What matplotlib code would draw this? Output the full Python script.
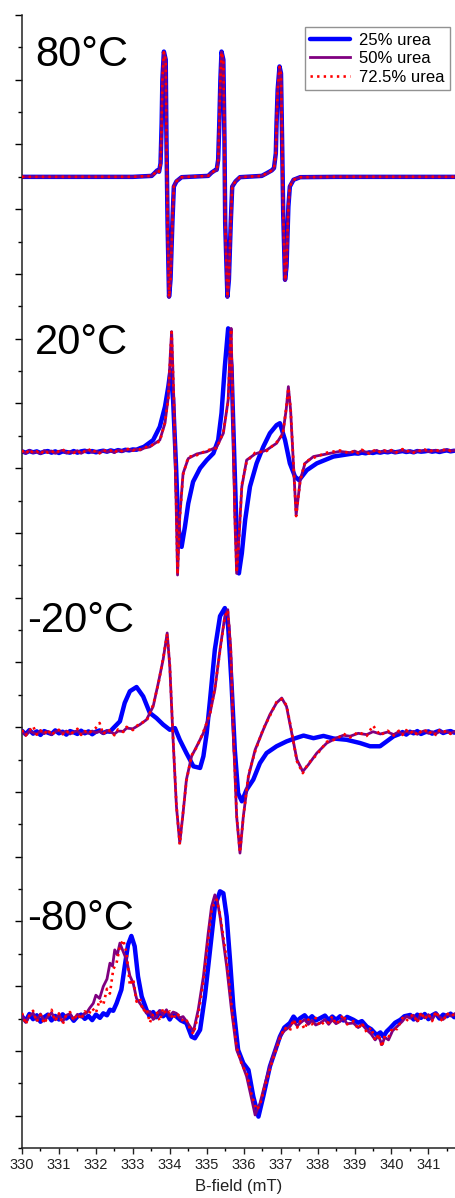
import numpy as np
import matplotlib
matplotlib.use("Agg")
import matplotlib.pyplot as plt
from matplotlib.ticker import MultipleLocator

plt.rcParams['font.family'] = ['Liberation Sans', 'DejaVu Sans']

# ---------------- data ----------------
series_labels = ["25% urea", "50% urea", "72.5% urea"]
panel_labels = ["80°C", "20°C", "-20°C", "-80°C"]
x_ticks = [330, 331, 332, 333, 334, 335, 336, 337, 338, 339, 340, 341]

# 80 °C (all three nearly identical)
b80 = [330.0, 331.0, 332.0, 333.0,
       333.51, 333.60, 333.66, 333.71, 333.75, 333.78, 333.80, 333.84, 333.89, 333.91, 333.94, 333.98, 334.02, 334.07, 334.11, 334.18, 334.32,
       335.04, 335.13, 335.22, 335.27, 335.31, 335.34, 335.37, 335.40, 335.45, 335.48, 335.50, 335.56, 335.60, 335.65, 335.69, 335.78, 335.90,
       336.49, 336.62, 336.76, 336.82, 336.87, 336.89, 336.92, 336.97, 337.01, 337.04, 337.07, 337.12, 337.16, 337.21, 337.25, 337.35, 337.53,
       338.5, 339.5, 340.5, 341.72]
a80_25 = [0, 0, 0, 0,
          0.03, 0.13, 0.20, 0.16, 0.42, 1.66, 3.00, 3.87, 3.62, 1.14, -1.43, -3.70, -3.18, -1.43, -0.30, -0.14, -0.01,
          0.03, 0.13, 0.20, 0.22, 0.53, 1.66, 3.00, 3.87, 3.62, 1.14, -1.43, -3.70, -3.18, -1.43, -0.30, -0.14, -0.01,
          0.03, 0.11, 0.20, 0.27, 0.73, 1.66, 2.69, 3.41, 3.20, 1.14, -1.12, -3.18, -2.77, -0.92, -0.30, -0.09, -0.01,
          0, 0, 0, 0]
a80_50 = [0, 0, 0, 0,
          0.03, 0.12, 0.19, 0.15, 0.40, 1.62, 2.98, 3.86, 3.60, 1.10, -1.47, -3.72, -3.20, -1.40, -0.28, -0.13, -0.01,
          0.03, 0.12, 0.19, 0.21, 0.50, 1.62, 2.98, 3.86, 3.60, 1.10, -1.47, -3.72, -3.20, -1.40, -0.28, -0.13, -0.01,
          0.03, 0.10, 0.19, 0.26, 0.70, 1.62, 2.66, 3.40, 3.18, 1.10, -1.15, -3.20, -2.75, -0.90, -0.28, -0.08, -0.01,
          0, 0, 0, 0]
a80_725 = [0, 0, 0, 0,
           0.03, 0.12, 0.20, 0.16, 0.41, 1.64, 2.99, 3.85, 3.61, 1.12, -1.45, -3.71, -3.19, -1.42, -0.29, -0.14, -0.01,
           0.03, 0.12, 0.20, 0.22, 0.52, 1.64, 2.99, 3.85, 3.61, 1.12, -1.45, -3.71, -3.19, -1.42, -0.29, -0.14, -0.01,
           0.03, 0.11, 0.20, 0.27, 0.72, 1.64, 2.68, 3.40, 3.19, 1.12, -1.13, -3.19, -2.76, -0.91, -0.29, -0.09, -0.01,
           0, 0, 0, 0]

# 20 °C
g20_left = [330.0, 330.1, 330.2, 330.3, 330.4, 330.5, 330.6, 330.7, 330.8, 330.9,
            331.0, 331.1, 331.2, 331.3, 331.4, 331.5, 331.6, 331.7, 331.8, 331.9,
            332.0, 332.1, 332.2, 332.3, 332.4, 332.5, 332.6, 332.7, 332.8, 332.9,
            333.0, 333.1, 333.2, 333.3]
g20_right = [339.0, 339.1, 339.2, 339.3, 339.4, 339.5, 339.6, 339.7, 339.8, 339.9,
             340.0, 340.1, 340.2, 340.3, 340.4, 340.5, 340.6, 340.7, 340.8, 340.9,
             341.0, 341.1, 341.2, 341.3, 341.4, 341.5, 341.6, 341.7]
l20_25 = [0.02, -0.02, 0.03, -0.01, 0.02, -0.03, 0.01, 0.03, -0.02, 0.02,
          -0.03, 0.02, 0.00, -0.02, 0.03, -0.02, 0.02, 0.04, 0.00, 0.03,
          -0.01, 0.02, 0.04, 0.01, 0.05, 0.02, 0.06, 0.03, 0.07, 0.05,
          0.08, 0.07, 0.12, 0.16]
l20_50 = [0.03, -0.04, 0.05, -0.02, 0.01, -0.05, 0.04, -0.01, 0.03, -0.04,
          0.02, 0.05, -0.03, 0.01, -0.02, 0.04, -0.04, 0.02, 0.06, -0.01,
          0.03, -0.03, 0.05, 0.00, 0.04, -0.02, 0.06, 0.02, 0.05, 0.08,
          0.04, 0.09, 0.06, 0.12]
l20_725 = [0.05, -0.06, 0.08, -0.03, 0.02, -0.07, 0.06, -0.02, 0.04, -0.05,
           0.03, 0.09, -0.04, 0.02, -0.03, 0.06, -0.06, 0.03, 0.10, -0.02,
           0.05, -0.04, 0.07, 0.01, 0.05, -0.03, 0.08, 0.03, 0.06, 0.11,
           0.05, 0.10, 0.08, 0.14]
r20_25 = [-0.04, -0.05, -0.02, -0.04, -0.01, -0.03, 0.00, -0.02, 0.01, -0.01,
          0.02, -0.01, 0.01, 0.03, 0.00, 0.02, -0.01, 0.03, 0.01, 0.02,
          0.04, 0.01, 0.03, 0.00, 0.03, 0.05, 0.02, 0.04]
r20_50 = [0.03, -0.02, 0.04, 0.00, -0.03, 0.02, 0.05, -0.01, 0.03, 0.00,
          0.04, -0.02, 0.02, 0.05, 0.01, 0.03, -0.01, 0.04, 0.02, 0.06,
          0.01, 0.03, 0.05, 0.02, 0.04, 0.07, 0.03, 0.05]
r20_725 = [0.05, -0.04, 0.07, 0.00, -0.05, 0.03, 0.08, -0.02, 0.05, 0.01,
           0.06, -0.03, 0.03, 0.09, 0.01, 0.05, -0.02, 0.06, 0.03, 0.08,
           0.00, 0.05, 0.07, 0.02, 0.06, 0.10, 0.03, 0.07]
fb20_25 = [333.55, 333.73, 333.87, 333.96, 334.02, 334.09, 334.17, 334.23, 334.32, 334.41,
           334.50, 334.63, 334.82, 335.00, 335.18, 335.31, 335.40, 335.49, 335.58, 335.67,
           335.74, 335.81, 335.87, 335.95, 336.04, 336.17, 336.35, 336.53, 336.71, 336.89,
           336.98, 337.12, 337.25, 337.39, 337.50, 337.71, 337.98, 338.43, 338.88]
fa20_25 = [0.37, 0.78, 1.40, 2.02, 2.53, 1.61, -0.45, -2.31, -2.93, -2.31,
           -1.59, -0.92, -0.50, -0.25, -0.04, 0.37, 1.20, 2.64, 3.82, 2.64,
           0.06, -2.51, -3.75, -3.13, -2.10, -1.07, -0.35, 0.16, 0.58, 0.83,
           0.89, 0.37, -0.35, -0.76, -0.87, -0.56, -0.35, -0.14, -0.06]
fb20_50 = [333.46, 333.73, 333.87, 333.96, 334.02, 334.05, 334.11, 334.17, 334.21, 334.27,
           334.36, 334.50, 334.73, 335.00, 335.27, 335.45, 335.58, 335.63, 335.66, 335.70,
           335.76, 335.81, 335.88, 335.95, 336.08, 336.31, 336.62, 336.89, 337.06, 337.15,
           337.21, 337.27, 337.35, 337.42, 337.53, 337.66, 337.89, 338.25, 338.60, 338.88]
fa20_50 = [0.16, 0.37, 0.89, 1.71, 3.15, 3.72, 1.61, -1.48, -3.80, -2.00,
           -0.66, -0.20, -0.06, 0.01, 0.16, 0.58, 1.61, 3.15, 3.82, 1.61,
           -2.00, -3.75, -2.51, -1.07, -0.25, -0.06, 0.06, 0.27, 0.58, 1.30,
           2.02, 1.30, -0.45, -1.95, -0.87, -0.35, -0.14, -0.06, 0.02, -0.02]
fa20_725 = [0.18, 0.33, 0.92, 1.65, 3.10, 3.70, 1.70, -1.40, -3.78, -2.05,
            -0.70, -0.15, -0.10, 0.05, 0.12, 0.62, 1.55, 3.10, 3.80, 1.70,
            -1.90, -3.72, -2.55, -1.00, -0.30, -0.02, 0.03, 0.30, 0.55, 1.35,
            1.98, 1.35, -0.40, -1.98, -0.90, -0.30, -0.18, -0.02, 0.05, -0.04]

# -20 °C
gm20_left = [330.0, 330.1, 330.2, 330.3, 330.4, 330.5, 330.6, 330.7, 330.8, 330.9,
             331.0, 331.1, 331.2, 331.3, 331.4, 331.5, 331.6, 331.7, 331.8, 331.9,
             332.0, 332.1, 332.2, 332.3]
gm20_right = [340.2, 340.3, 340.4, 340.5, 340.6, 340.7, 340.8, 340.9,
              341.0, 341.1, 341.2, 341.3, 341.4, 341.5, 341.6, 341.7]
lm20_25 = [0.06, -0.05, 0.08, -0.03, 0.04, -0.07, 0.05, 0.00, -0.04, 0.07,
           -0.02, 0.03, -0.06, 0.05, 0.01, -0.04, 0.06, -0.02, 0.04, -0.05,
           0.03, 0.07, -0.01, 0.04]
lm20_50 = [0.04, -0.07, 0.05, 0.00, -0.05, 0.06, -0.03, 0.04, -0.06, 0.03,
           0.07, -0.02, 0.05, -0.04, 0.02, 0.06, -0.05, 0.03, -0.02, 0.05,
           0.00, 0.04, -0.03, 0.06]
lm20_725 = [0.08, -0.09, 0.06, 0.20, -0.06, 0.07, -0.04, 0.10, -0.08, 0.04,
            0.09, -0.05, 0.07, -0.06, 0.03, 0.12, -0.07, 0.05, -0.03, 0.08,
            0.15, 0.30, -0.05, 0.09]
rm20_25 = [-0.05, 0.02, -0.06, 0.03, -0.02, 0.05, -0.04, 0.01, 0.04, -0.03, 0.02, 0.06, -0.01, 0.03, 0.05, 0.00]
rm20_50 = [0.03, -0.04, 0.05, -0.01, 0.04, -0.05, 0.02, 0.06, -0.02, 0.03, -0.04, 0.05, 0.01, 0.04, -0.02, 0.03]
rm20_725 = [0.06, -0.07, 0.08, -0.03, 0.07, -0.08, 0.04, 0.10, -0.04, 0.05, -0.07, 0.08, 0.02, 0.06, -0.04, 0.05]
fbm20_25 = [332.38, 332.47, 332.65, 332.78, 332.92, 333.10, 333.28, 333.46, 333.64, 333.82,
            334.00, 334.14, 334.27, 334.45, 334.64, 334.82, 334.91, 335.00, 335.09, 335.22,
            335.36, 335.49, 335.58, 335.67, 335.76, 335.85, 335.95, 336.08, 336.26, 336.44,
            336.62, 336.89, 337.16, 337.35, 337.62, 337.89, 338.16, 338.43, 338.79, 339.15,
            339.42, 339.69, 339.87, 340.06]
fam20_25 = [0.03, 0.14, 0.35, 0.92, 1.28, 1.41, 1.12, 0.61, 0.45, 0.25,
            0.09, 0.14, -0.22, -0.63, -1.04, -1.09, -0.73, -0.01, 1.02, 2.57,
            3.60, 3.85, 3.29, 1.54, -0.53, -1.87, -2.12, -1.76, -1.45, -0.94,
            -0.63, -0.42, -0.27, -0.19, -0.09, -0.17, -0.10, -0.18, -0.22, -0.32,
            -0.42, -0.42, -0.27, -0.11]
fbm20_50 = [332.40, 332.50, 332.60, 332.74, 332.83, 333.00, 333.19, 333.37, 333.55, 333.69,
            333.82, 333.93, 334.00, 334.09, 334.18, 334.27, 334.36, 334.45, 334.59, 334.73,
            334.91, 335.09, 335.22, 335.36, 335.49, 335.57, 335.65, 335.72, 335.81, 335.90,
            335.99, 336.13, 336.31, 336.53, 336.71, 336.89, 337.03, 337.16, 337.30, 337.44,
            337.60, 337.75, 337.98, 338.25, 338.52, 338.70, 338.88, 339.10, 339.33, 339.50,
            339.70, 339.90, 340.06]
fam20_50 = [0.02, -0.04, 0.05, 0.04, 0.14, 0.12, 0.25, 0.40, 0.81, 1.54,
            2.26, 3.08, 2.05, -0.22, -2.28, -3.41, -2.48, -1.45, -0.73, -0.42,
            -0.01, 0.61, 1.33, 2.57, 3.60, 3.80, 2.57, -0.01, -2.59, -3.72,
            -2.59, -1.35, -0.53, 0.09, 0.56, 0.92, 1.07, 0.81, -0.01, -0.83,
            -1.20, -0.99, -0.63, -0.32, -0.16, -0.08, -0.11, -0.02, -0.06, 0.03,
            -0.04, 0.02, -0.06]
fam20_725 = [0.06, -0.08, 0.10, 0.02, 0.18, 0.08, 0.30, 0.35, 0.86, 1.50,
             2.30, 3.05, 2.10, -0.18, -2.25, -3.45, -2.45, -1.50, -0.70, -0.45,
             0.03, 0.58, 1.38, 2.52, 3.58, 3.78, 2.60, 0.03, -2.55, -3.70,
             -2.62, -1.30, -0.58, 0.12, 0.52, 0.95, 1.04, 0.85, 0.03, -0.88,
             -1.25, -0.95, -0.68, -0.28, -0.20, -0.03, -0.15, 0.02, -0.10, 0.22,
             -0.08, 0.06, -0.09]

# -80 °C
gm80_left = [330.0, 330.1, 330.2, 330.3, 330.4, 330.5, 330.6, 330.7, 330.8, 330.9,
             331.0, 331.1, 331.2, 331.3, 331.4, 331.5, 331.6, 331.7]
gm80_right = [340.6, 340.7, 340.8, 340.9, 341.0, 341.1, 341.2, 341.3, 341.4, 341.5, 341.6, 341.7]
lm80_25 = [0.05, -0.10, 0.12, -0.04, 0.08, -0.12, 0.02, 0.10, -0.08, 0.06, -0.05, 0.11, -0.02, 0.07, -0.09, 0.04, 0.10, -0.03]
lm80_50 = [0.10, -0.14, 0.06, 0.15, -0.08, 0.12, -0.10, 0.04, 0.16, -0.06, 0.10, -0.12, 0.08, 0.13, -0.05, 0.11, 0.02, 0.15]
lm80_725 = [0.15, -0.20, 0.08, 0.22, -0.12, 0.10, -0.18, 0.05, 0.25, -0.10, 0.14, -0.20, 0.10, 0.18, -0.08, 0.12, -0.05, 0.20]
rm80_25 = [-0.05, 0.10, 0.00, 0.12, -0.04, 0.08, 0.14, -0.02, 0.10, 0.05, 0.13, 0.02]
rm80_50 = [0.08, -0.10, 0.12, 0.00, 0.10, -0.06, 0.14, 0.03, -0.05, 0.11, 0.06, 0.12]
rm80_725 = [0.10, -0.15, 0.18, -0.05, 0.12, -0.10, 0.20, 0.00, -0.12, 0.15, 0.05, 0.10]
fbm80_25 = [331.80, 331.90, 332.00, 332.11, 332.20, 332.30, 332.38, 332.47, 332.56, 332.69,
            332.78, 332.87, 332.96, 333.05, 333.14, 333.24, 333.37, 333.45, 333.55, 333.64,
            333.73, 333.82, 333.91, 334.00, 334.09, 334.18, 334.30, 334.45, 334.59, 334.68,
            334.82, 334.95, 335.09, 335.22, 335.36, 335.45, 335.54, 335.63, 335.72, 335.85,
            335.99, 336.13, 336.26, 336.40, 336.53, 336.71, 336.98, 337.10, 337.25, 337.35,
            337.45, 337.53, 337.65, 337.75, 337.85, 337.95, 338.07, 338.20, 338.30, 338.40,
            338.50, 338.61, 338.70, 338.80, 338.97, 339.10, 339.20, 339.33, 339.45, 339.60,
            339.70, 339.78, 339.87, 339.96, 340.10, 340.24, 340.35, 340.51]
fam80_25 = [0.06, -0.07, 0.10, 0.00, 0.14, 0.08, 0.25, 0.22, 0.45, 0.87,
            1.59, 2.26, 2.53, 2.21, 1.28, 0.66, 0.25, 0.05, 0.18, 0.02,
            0.20, 0.05, 0.14, -0.05, 0.12, 0.04, -0.08, -0.16, -0.58, -0.63,
            -0.37, 0.66, 2.10, 3.44, 3.91, 3.85, 3.13, 1.79, 0.35, -0.99,
            -1.40, -1.61, -2.43, -3.05, -2.43, -1.50, -0.58, -0.30, -0.16, 0.04,
            -0.10, -0.01, 0.08, -0.06, 0.05, -0.08, -0.01, 0.07, -0.07, 0.04,
            -0.06, 0.05, -0.08, 0.03, -0.06, -0.15, -0.10, -0.27, -0.35, -0.53,
            -0.45, -0.58, -0.42, -0.32, -0.15, -0.06, 0.05, 0.09]
fbm80_50 = [331.74, 331.83, 331.93, 332.00, 332.10, 332.20, 332.30, 332.38, 332.45, 332.51,
            332.58, 332.65, 332.72, 332.83, 332.92, 333.01, 333.10, 333.19, 333.28, 333.37,
            333.46, 333.55, 333.64, 333.73, 333.82, 333.91, 334.00, 334.09, 334.18, 334.27,
            334.36, 334.45, 334.55, 334.64, 334.77, 334.91, 335.04, 335.13, 335.22, 335.29,
            335.36, 335.54, 335.67, 335.81, 335.95, 336.08, 336.22, 336.31, 336.44, 336.58,
            336.76, 336.98, 337.10, 337.25, 337.35, 337.45, 337.53, 337.65, 337.75, 337.85,
            337.95, 338.07, 338.20, 338.30, 338.40, 338.50, 338.61, 338.70, 338.80, 338.97,
            339.10, 339.20, 339.33, 339.45, 339.56, 339.65, 339.74, 339.82, 339.92, 340.03,
            340.15, 340.30, 340.40, 340.51]
fam80_50 = [0.14, 0.30, 0.45, 0.70, 0.60, 0.97, 1.20, 1.69, 1.60, 2.10,
            1.95, 2.31, 2.10, 1.79, 1.30, 1.07, 0.60, 0.45, 0.30, 0.14,
            0.20, -0.05, 0.04, 0.22, 0.10, 0.25, 0.05, 0.18, 0.14, 0.00,
            0.04, -0.10, -0.27, -0.42, 0.25, 1.28, 2.62, 3.44, 3.80, 3.60,
            3.13, 1.59, 0.25, -0.99, -1.40, -1.81, -2.53, -3.00, -2.64, -2.02,
            -1.30, -0.58, -0.40, -0.27, -0.10, -0.25, -0.16, -0.05, -0.20, -0.08,
            -0.22, -0.16, -0.05, -0.20, -0.06, -0.18, -0.11, -0.02, -0.18, -0.16,
            -0.30, -0.20, -0.37, -0.50, -0.68, -0.55, -0.83, -0.60, -0.68, -0.40,
            -0.27, -0.10, 0.05, -0.01]
fbm80_725 = [331.80, 331.90, 332.00, 332.10, 332.20, 332.30, 332.38, 332.47, 332.56, 332.65,
             332.74, 332.83, 332.92, 333.01, 333.10, 333.19, 333.28, 333.37, 333.46, 333.55,
             333.64, 333.73, 333.82, 333.91, 334.00, 334.09, 334.18, 334.27, 334.36, 334.45,
             334.55, 334.64, 334.77, 334.91, 335.04, 335.13, 335.22, 335.27, 335.36, 335.54,
             335.67, 335.81, 335.95, 336.08, 336.22, 336.35, 336.44, 336.58, 336.76, 336.98,
             337.10, 337.25, 337.35, 337.45, 337.53, 337.65, 337.75, 337.85, 337.95, 338.07,
             338.20, 338.30, 338.40, 338.50, 338.61, 338.70, 338.80, 338.97, 339.10, 339.20,
             339.33, 339.45, 339.56, 339.65, 339.74, 339.82, 339.92, 340.03, 340.15, 340.30,
             340.40, 340.51]
fam80_725 = [0.10, 0.30, 0.15, 0.55, 0.40, 0.90, 0.75, 1.50, 1.70, 2.20,
             2.41, 2.00, 1.00, 1.20, 0.50, 0.60, 0.20, 0.30, -0.15, 0.10,
             0.20, -0.10, 0.30, 0.10, 0.20, -0.05, 0.15, 0.05, -0.10, -0.05,
             -0.35, -0.50, 0.10, 1.10, 2.40, 3.30, 3.60, 3.65, 3.20, 1.80,
             0.40, -0.90, -1.45, -1.70, -2.40, -2.84, -2.70, -2.10, -1.40, -0.65,
             -0.30, -0.40, -0.05, -0.30, -0.10, -0.35, -0.05, -0.20, 0.00, -0.25,
             -0.10, -0.15, 0.05, -0.20, -0.05, 0.10, -0.20, -0.10, -0.35, -0.15,
             -0.45, -0.30, -0.70, -0.50, -0.90, -0.55, -0.60, -0.30, -0.35, 0.00,
             -0.10, 0.05]

# ---------------- assemble ----------------
def cat(*parts):
    return np.concatenate([np.asarray(p, dtype=float) for p in parts])

panels = [
    ("80°C", 30.0, [(b80, a80_25), (b80, a80_50), (b80, a80_725)]),
    ("20°C", 21.5, [
        (cat(g20_left, fb20_25, g20_right), cat(l20_25, fa20_25, r20_25)),
        (cat(g20_left, fb20_50, g20_right), cat(l20_50, fa20_50, r20_50)),
        (cat(g20_left, fb20_50, g20_right), cat(l20_725, fa20_725, r20_725))]),
    ("-20°C", 12.83, [
        (cat(gm20_left, fbm20_25, gm20_right), cat(lm20_25, fam20_25, rm20_25)),
        (cat(gm20_left, fbm20_50, gm20_right), cat(lm20_50, fam20_50, rm20_50)),
        (cat(gm20_left, fbm20_50, gm20_right), cat(lm20_725, fam20_725, rm20_725))]),
    ("-80°C", 4.02, [
        (cat(gm80_left, fbm80_25, gm80_right), cat(lm80_25, fam80_25, rm80_25)),
        (cat(gm80_left, fbm80_50, gm80_right), cat(lm80_50, fam80_50, rm80_50)),
        (cat(gm80_left, fbm80_725, gm80_right), cat(lm80_725, fam80_725, rm80_725))]),
]

label_pos = [(330.35, 33.42), (330.35, 24.54), (330.13, 15.95), (330.13, 6.74)]

styles = [
    dict(color="#0000FF", lw=3.2, ls="-", solid_capstyle="round", solid_joinstyle="round"),
    dict(color="#800080", lw=2.0, ls="-", solid_joinstyle="round"),
    dict(color="#FF0000", lw=1.9, ls=(0, (0.9, 1.6))),
]

# ---------------- figure ----------------
W, H = 455, 1198
fig = plt.figure(figsize=(W / 100, H / 100), dpi=100)
ax = fig.add_axes([22 / W, 50 / H, 1 - 22 / W, 1133 / H])

handles = []
for pi, (lab, off, ser) in enumerate(panels):
    for si, (b, a) in enumerate(ser):
        ln, = ax.plot(b, np.asarray(a, dtype=float) + off, zorder=2 + si, **styles[si])
        if pi == 0:
            handles.append(ln)
    x, y = label_pos[pi]
    ax.text(x, y, lab, fontsize=30, va="baseline", ha="left", color="black")

ax.set_xlim(330, 341.72)
ax.set_ylim(0, 35)
ax.set_xticks(x_ticks)
ax.xaxis.set_minor_locator(MultipleLocator(0.5))
ax.set_yticks(np.arange(1, 36, 2))
ax.yaxis.set_minor_locator(MultipleLocator(1))
ax.set_yticklabels([])
for s in ["top", "right"]:
    ax.spines[s].set_visible(False)
for s in ["left", "bottom"]:
    ax.spines[s].set_linewidth(1.1)
    ax.spines[s].set_color("#222222")
ax.tick_params(axis="x", which="major", direction="out", length=4.5, width=1.0, labelsize=10.5, pad=3, colors="#222222")
ax.tick_params(axis="x", which="minor", direction="out", length=2.5, width=1.0)
ax.tick_params(axis="y", which="major", direction="out", length=5, width=1.0)
ax.tick_params(axis="y", which="minor", direction="out", length=3, width=1.0)
for t in ax.get_xticklabels():
    t.set_color("#222222")
ax.set_xlabel("B-field (mT)", fontsize=12, labelpad=5, color="#222222")

leg = ax.legend(handles, series_labels, loc="upper right",
                bbox_to_anchor=(450 / W, 1 - 27 / H), bbox_transform=fig.transFigure,
                fontsize=12, frameon=True, fancybox=False, borderaxespad=0,
                handlelength=2.4, handletextpad=0.5, labelspacing=0.2,
                borderpad=0.35)
leg.get_frame().set_edgecolor("#777777")
leg.get_frame().set_linewidth(1.0)

fig.savefig("out.png", dpi=100)
